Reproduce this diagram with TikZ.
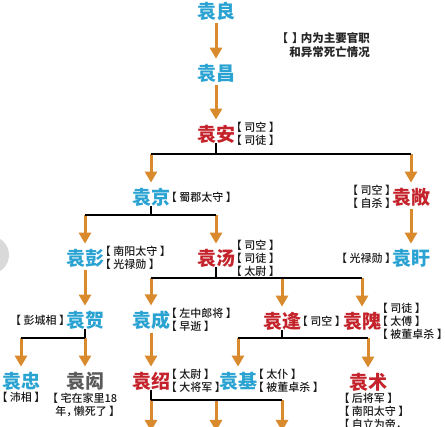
\documentclass[tikz,border=0pt]{standalone}
\usepackage{fontspec}
\newfontfamily\cjk[RawFeature=+halt]{Noto Sans CJK SC}
\newfontfamily\cjkmed[RawFeature=+halt]{Noto Sans CJK SC Medium}
\newfontfamily\cjkheavy{Noto Sans CJK SC Black}
\usetikzlibrary{arrows.meta,positioning}
\definecolor{famblue}{HTML}{2BA3D2}
\definecolor{famred}{HTML}{C4232B}
\definecolor{famgray}{HTML}{5A5A5A}
\definecolor{arrorange}{HTML}{D88A2C}
\newcommand\offi[1]{【\hspace{2.5pt}#1\hspace{2.5pt}】}

\begin{document}
\begin{tikzpicture}[
  x=1pt, y=1pt,
  every node/.style = {inner sep=0pt, font=\cjk},
  person/.style = {font=\cjkheavy\fontsize{19}{19}\selectfont},
  pblue/.style = {person, text=famblue},
  pred/.style = {person, text=famred},
  pgray/.style = {person, text=famgray},
  office/.style = {font=\cjkmed\fontsize{11}{13}\selectfont, text=black!90, align=left},
  note/.style = {font=\cjk\bfseries\fontsize{11.5}{13.5}\selectfont, text=black!85, align=right},
  arr/.style = {draw=arrorange, line width=3pt, -{Triangle[width=12pt,length=11pt]}, shorten >=5pt},
  tree/.style = {draw=black, line width=1.2pt}
]
\useasboundingbox (0,0) rectangle (445,-427);
\clip (0,0) rectangle (445,-427);
\fill[black!15] (-10,-255) circle (19);

\node[note, anchor=east] (note) at (370,-45) {【\hspace{4pt}】\hspace{3pt}内为主要官职\\和异常死亡情况};

\node[pblue] (liang)  at (216,-11)  {袁良};
\node[pblue] (chang)  at (216,-73)  {袁昌};
\node[pred]  (an)     at (216,-134) {袁安};
\node[pblue] (jing)   at (151,-197) {袁京};
\node[pred]  (chang2) at (411,-197) {袁敞};
\node[pblue] (peng)   at (85,-258)  {袁彭};
\node[pred]  (tang)   at (216,-258) {袁汤};
\node[pblue] (xu)     at (411,-258) {袁盱};
\node[pblue] (he)     at (85,-320)  {袁贺};
\node[pblue] (cheng)  at (151,-320) {袁成};
\node[pred]  (feng)   at (282,-321) {袁逢};
\node[pred]  (wei)    at (362,-321) {袁隗};
\node[pblue] (zhong)  at (21,-381)  {袁忠};
\node[pgray] (hong)   at (85,-381)  {袁闳};
\node[pred]  (shao)   at (151,-381) {袁绍};
\node[pblue] (ji)     at (238,-381) {袁基};
\node[pred]  (shu)    at (368,-382) {袁术};

\node[office, right=1pt of an]     (anoff)     {\offi{司空}\\\offi{司徒}};
\node[office, right=1pt of jing]   (jingoff)   {\offi{蜀郡太守}};
\node[office, left=1pt of chang2]  (chang2off) {\offi{司空}\\\offi{自杀}};
\node[office, right=1pt of peng]   (pengoff)   {\offi{南阳太守}\\\offi{光禄勋}};
\node[office, right=1pt of tang]   (tangoff)   {\offi{司空}\\\offi{司徒}\\\offi{太尉}};
\node[office, left=1pt of xu]      (xuoff)     {\offi{光禄勋}};
\node[office, left=1pt of he]      (heoff)     {\offi{彭城相}};
\node[office, right=1pt of cheng]  (chengoff)  {\offi{左中郎将}\\\offi{早逝}};
\node[office, right=1pt of feng]   (fengoff)   {\offi{司空}};
\node[office, right=1pt of wei]    (weioff)    {\offi{司徒}\\\offi{太傅}\\\offi{被董卓杀}};
\node[office, below=2pt of zhong]  (zhongoff)  {\offi{沛相}};
\node[office, below=2pt of hong, align=center] (hongoff) {【\hspace{2.5pt}宅在家里18\\年，\hspace{2pt}懒死了\hspace{2.5pt}】};
\node[office, right=1pt of shao]   (shaooff)   {\offi{太尉}\\\offi{大将军}};
\node[office, right=1pt of ji]     (jioff)     {\offi{太仆}\\\offi{被董卓杀}};
\node[office, below right=2pt and -5pt of shu.south west] (shuoff) {\offi{后将军}\\\offi{南阳太守}\\【\hspace{2.5pt}自立为帝，};

\coordinate[below=20pt of an.center]   (anbar);
\coordinate[below=18pt of jing.center] (jingbar);
\coordinate[below=20pt of tang.center] (tangbar);
\coordinate[below=18pt of he.center]   (hebar);
\coordinate[below=17pt of feng.center] (fengbar);
\coordinate[below=19pt of shao.center] (shaobar);
\coordinate (kid1) at (151,-431);
\coordinate (kid2) at (216,-431);
\coordinate (kid3) at (282,-431);

\draw[arr, shorten <=3pt] (liang) -- (chang);
\draw[arr, shorten <=3pt] (chang) -- (an);
\draw[tree] (an) -- (anbar);
\draw[arr] (jing |- anbar) -- (jing);
\draw[arr] (chang2 |- anbar) -- (chang2);
\draw[tree] (jing |- anbar) -- (chang2 |- anbar);

\draw[arr, shorten <=3pt] (chang2) -- (xu);
\draw[tree] (jing) -- (jingbar);
\draw[arr] (peng |- jingbar) -- (peng);
\draw[arr] (tang |- jingbar) -- (tang);
\draw[tree] (peng |- jingbar) -- (tang |- jingbar);

\draw[arr, shorten <=3pt] (peng) -- (he);
\draw[tree] (tang) -- (tangbar);
\draw[arr] (cheng |- tangbar) -- (cheng);
\draw[arr] (feng |- tangbar) -- (feng);
\draw[arr] (wei |- tangbar) -- (wei);
\draw[tree] (cheng |- tangbar) -- (wei |- tangbar);

\draw[tree] (he) -- (hebar);
\draw[arr] (zhong |- hebar) -- (zhong);
\draw[arr] (hong |- hebar) -- (hong);
\draw[tree] (zhong |- hebar) -- (hebar);

\draw[arr, shorten <=3pt] (cheng) -- (shao);
\draw[tree] (feng) -- (fengbar);
\draw[arr] (ji |- fengbar) -- (ji);
\draw[arr] (shu |- fengbar) -- (shu);
\draw[tree] (ji |- fengbar) -- (shu |- fengbar);

\draw[tree] (shao) -- (shaobar);
\draw[arr, shorten >=0pt] (shaobar) -- (kid1);
\draw[arr, shorten >=0pt] (kid2 |- shaobar) -- (kid2);
\draw[arr, shorten >=0pt] (kid3 |- shaobar) -- (kid3);
\draw[tree] (shaobar) -- (kid3 |- shaobar);
\end{tikzpicture}
\end{document}
